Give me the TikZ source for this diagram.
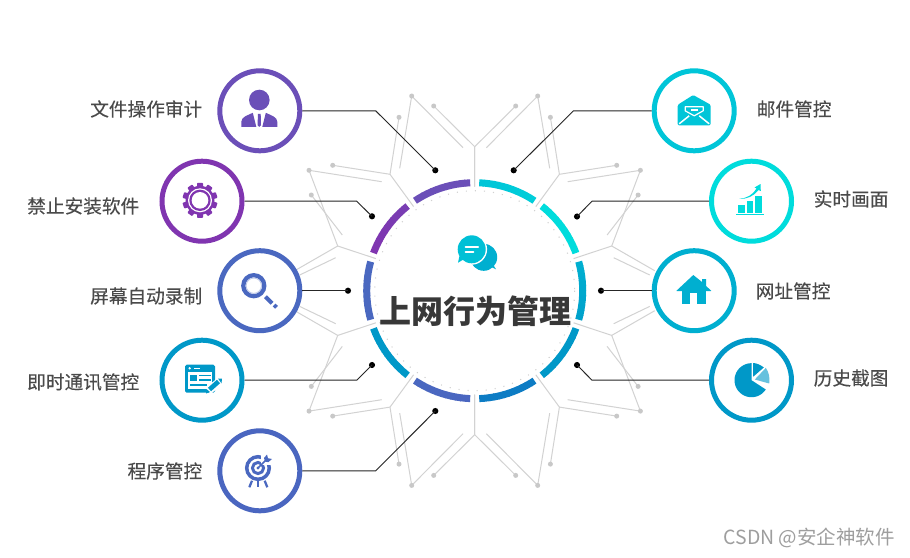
\documentclass[tikz,border=0pt]{standalone}
\usepackage{fontspec}
\setmainfont{Noto Sans CJK SC}
\newfontfamily\labfont[FakeBold=0.2]{Noto Sans CJK SC}
\usetikzlibrary{calc}
\definecolor{cA}{HTML}{6B4FB8}
\definecolor{cB}{HTML}{8035B0}
\definecolor{cC}{HTML}{4A68C0}
\definecolor{cD}{HTML}{0098C8}
\definecolor{cE}{HTML}{4A66C0}
\definecolor{cF}{HTML}{00C5D8}
\definecolor{cG}{HTML}{00DCDC}
\definecolor{cH}{HTML}{00AFD0}
\definecolor{cI}{HTML}{0D7CC4}
\definecolor{wire}{HTML}{D2D2D2}
\definecolor{wdot}{HTML}{C8C8C8}
\definecolor{lab}{HTML}{4A4A4A}
\tikzset{
  x=0.75pt,y=-0.75pt,
  ringnode/.style={circle,draw,line width=3.75pt,fill=white,minimum size=60pt,inner sep=0pt},
  labeltext/.style={font=\labfont\fontsize{14pt}{16pt}\selectfont,text=lab,inner sep=0pt},
  wireline/.style={draw=wire,line width=0.75pt,line join=round},
  wiredot/.style={fill=wdot},
  leader/.style={draw=black!85,line width=0.7pt},
  enddot/.style={circle,fill=black,minimum size=4.6pt,inner sep=0pt},
}
% ring band piece: from angle, to angle, start colour, end colour
\newcommand{\ringarc}[4]{%
  \foreach \i in {0,...,11}{%
    \pgfmathsetmacro{\aa}{#1+(#2-#1)*\i/12}%
    \pgfmathsetmacro{\ab}{#1+(#2-#1)*(\i+1)/12+(\i<11?0.3:0)}%
    \pgfmathtruncatemacro{\pc}{100-\i*100/11}%
    \fill[color={#3!\pc!#4}]
      ({474.7+104.5*cos(\aa)},{290.7-104.5*sin(\aa)}) --
      ({474.7+111.5*cos(\aa)},{290.7-111.5*sin(\aa)}) --
      ({474.7+111.5*cos(\ab)},{290.7-111.5*sin(\ab)}) --
      ({474.7+104.5*cos(\ab)},{290.7-104.5*sin(\ab)}) -- cycle;%
  }%
}
\begin{document}
\begin{tikzpicture}
\useasboundingbox (0,0) rectangle (910,557);
\fill[white] (0,0) rectangle (910,557);

% circuit traces, one quadrant mirrored four times
\foreach \sx/\sy in {1/1,-1/1,1/-1,-1/-1}{
\begin{scope}[shift={(474.7,290.7)},xscale=\sx,yscale=\sy]
  \draw[wireline] (0,-104)--(0,-144)--(-41,-184.7);
  \draw[wireline] (-11.7,-143)--(-63,-194.7)--(-75,-122.4);
  \draw[wireline] (-61.1,-84.1)--(-84.7,-116.4)--(-75.7,-173.4);
  \draw[wireline] (-84.7,-116.4)--(-142,-125.4);
  \draw[wireline] (-93,-109)--(-165.7,-120.4)--(-137,-44.7)--(-98.9,-32.1);
  \draw[wireline] (-137,-44.7)--(-180,-20);
  \draw[wireline] (-163.4,-95.7)--(-132.4,-55.7);
  \draw[wireline] (-139,-33)--(-175,-15.7);
  \foreach \dx/\dy in {-41/-184.7,-63/-194.7,-75.7/-173.4,-142/-125.4,-165.7/-120.4,-163.4/-95.7}
    \fill[wiredot] (\dx,\dy) circle[radius=2.5];
\end{scope}}

% central ring
\draw[draw=black!18,line width=0.8pt,dash pattern=on 0.8pt off 6pt] (474.7,290.7) circle[radius=100];
\ringarc{92.4}{123.6}{cA}{cA}
\ringarc{128.4}{159.6}{cA!35!cB}{cB}
\ringarc{164.4}{195.6}{cC}{cC}
\ringarc{200.4}{231.6}{cD}{cD}
\ringarc{236.4}{267.6}{cC}{cE}
\ringarc{272.4}{303.6}{cI}{cI}
\ringarc{308.4}{339.6}{cD}{cD}
\ringarc{344.4}{375.6}{cD!60!cH}{cH}
\ringarc{20.4}{51.6}{cG}{cG}
\ringarc{56.4}{87.6}{cG!40!cF}{cF}

% outer circles
\node[ringnode,draw=cA] (c1) at (259.8,110.8) {};
\node[ringnode,draw=cB] (c2) at (202,201.2) {};
\node[ringnode,draw=cC] (c3) at (259.8,290.7) {};
\node[ringnode,draw=cD] (c4) at (202,380.2) {};
\node[ringnode,draw=cE] (c5) at (259.8,470.8) {};
\node[ringnode,draw=cF] (c6) at (694.2,110.8) {};
\node[ringnode,draw=cG] (c7) at (751.5,201.2) {};
\node[ringnode,draw=cH] (c8) at (694.2,290.7) {};
\node[ringnode,draw=cD] (c9) at (751.5,380.2) {};

% leader ends
\node[enddot] (d1) at (435.3,170.3) {};
\node[enddot] (d2) at (372,216.3) {};
\node[enddot] (d3) at (348,290.7) {};
\node[enddot] (d4) at (372,365) {};
\node[enddot] (d5) at (435.3,411) {};
\node[enddot] (d6) at (513.7,170.3) {};
\node[enddot] (d7) at (577,216.5) {};
\node[enddot] (d8) at (601,290.7) {};
\node[enddot] (d9) at (577,365) {};
\coordinate (e1) at (375.7,110.8);
\coordinate (e2) at (356.7,201.2);
\coordinate (e4) at (356.7,380.2);
\coordinate (e5) at (375.7,470.8);
\coordinate (e6) at (573.5,110.8);
\coordinate (e7) at (592,201.2);
\coordinate (e9) at (592,380.2);
\draw[leader] (c1.east)--(e1)--(d1.center);
\draw[leader] (c2.east)--(e2)--(d2.center);
\draw[leader] (c3.east)--(d3.center);
\draw[leader] (c4.east)--(e4)--(d4.center);
\draw[leader] (c5.east)--(e5)--(d5.center);
\draw[leader] (c6.west)--(e6)--(d6.center);
\draw[leader] (c7.west)--(e7)--(d7.center);
\draw[leader] (c8.west)--(d8.center);
\draw[leader] (c9.west)--(e9)--(d9.center);

% labels
\node[labeltext,anchor=east] (t1) at (202.5,109) {文件操作审计};
\node[labeltext,anchor=east] (t2) at (139.5,206) {禁止安装软件};
\node[labeltext,anchor=east] (t3) at (202.5,296) {屏幕自动录制};
\node[labeltext,anchor=east] (t4) at (139.5,382) {即时通讯管控};
\node[labeltext,anchor=east] (t5) at (202.5,471) {程序管控};
\node[labeltext,anchor=west] (t6) at (756.5,109) {邮件管控};
\node[labeltext,anchor=west] (t7) at (813.5,199) {实时画面};
\node[labeltext,anchor=west] (t8) at (755.5,291) {网址管控};
\node[labeltext,anchor=west] (t9) at (813.5,378) {历史截图};

% title
\node[font=\fontsize{24pt}{28pt}\selectfont\bfseries,text=black!78,inner sep=0pt] (title) at (475.5,311.5) {上网行为管理};

% chat icon
\begin{scope}[shift={(474.7,290.7)}]
  \fill[cH] (9,-33.4) circle[radius=13.5];
  \fill[cH] (12,-26) -- (21.3,-21.4) -- (16,-30) -- cycle;
  \fill[white] (-3,-41.4) circle[radius=15.4];
  \fill[cF!75!cH] (-3,-41.4) circle[radius=14];
  \fill[cF!75!cH] (-10,-32) -- (-16.7,-28) -- (-14.5,-38) -- cycle;
  \draw[white,line width=1.5pt,line cap=round] (-9.2,-43.3)--(3.5,-43.3);
  \draw[white,line width=1.5pt,line cap=round] (-9.2,-38.3)--(-1.3,-38.3);
\end{scope}

% person
\begin{scope}[shift={(c1.center)},cA]
  \fill (-0.5,-10.8) circle[radius=10.3];
  \fill (-18.5,16) -- (-18.5,11) .. controls (-18.5,6) and (-12,4.5) .. (-7,2) -- (-3.5,16) -- cycle;
  \fill (17.5,16) -- (17.5,11) .. controls (17.5,6) and (11,4.5) .. (6,2) -- (2.5,16) -- cycle;
  \fill (-1.9,3) -- (0.9,3) -- (1.2,14.5) -- (-0.5,16) -- (-2.2,14.5) -- cycle;
\end{scope}

% gear
\begin{scope}[shift={(200,200.3)},cB]
  \foreach \t in {0,36,...,324}
    \fill[rotate=\t,rounded corners=0.6pt] (-3,-17.5) rectangle (3,0);
  \fill (0,0) circle[radius=14.5];
  \fill[white] (0,0) circle[radius=12];
  \fill (0,0) circle[radius=10.7];
  \fill[white] (0,0) circle[radius=8.3];
\end{scope}

% magnifier
\begin{scope}[shift={(c3.center)}]
  \draw[cC,line width=3.2pt] (-6,-5) circle[radius=10.5];
  \draw[cC!35!white,line width=0.7pt] (-6,-5) circle[radius=7.7];
  \draw[cC,line width=3pt] (5.7,6)--(12.3,12.6);
  \draw[cC,line width=3pt] (14.3,14.3)--(16.7,16.6);
\end{scope}

% form and pencil
\begin{scope}[shift={(180,360)},cD]
  \fill[rounded corners=1.2pt] (5,4.7) rectangle (35,32.7);
  \fill[white] (7.7,12) rectangle (32.3,29.3);
  \fill[white] (9.7,8.3) circle[radius=1.3];
  \draw[white,line width=1pt] (14,8.3)--(20,8.3);
  \fill (10,15) rectangle (17.3,20.7);
  \draw[line width=1pt] (19.3,15.7)--(30.7,15.7);
  \draw[line width=1pt] (19.3,20)--(30.7,20);
  \draw[line width=1pt] (10,25)--(26.7,25);
  \draw[white,line width=6pt] (28,31)--(40.7,20.7);
  \draw[line width=3.5pt] (29.5,29.5)--(38.5,21.5);
  \fill (38,18.5) -- (42,18.7) -- (41.5,23.3) -- cycle;
  \fill (26,33.5) -- (26.5,29) -- (30,32) -- cycle;
\end{scope}

% target
\begin{scope}[shift={(258,468)},cC]
  \draw[line width=2.6pt] (0,0) circle[radius=11.3];
  \draw[line width=2.2pt] (0,0) circle[radius=5.6];
  \fill (0,0) circle[radius=1.6];
  \fill[white] (2.5,-15) rectangle (16,-3);
  \draw[line width=1.3pt] (0,0)--(8.5,-8.5);
  \fill (6,-10) -- (9,-13.5) -- (10,-9.8) -- (14,-9) -- (10.3,-5.8) -- (7,-6.5) -- cycle;
  \draw[line width=1.7pt] (-6,12.7)--(-8.7,19.3);
  \draw[line width=1.7pt] (0,13.3)--(0,19.3);
  \draw[line width=1.7pt] (6.7,12.7)--(9.3,19.3);
\end{scope}

% envelope
\begin{scope}[shift={(c6.center)}]
  \fill[cF,rounded corners=1pt] (-16.5,-6) -- (-1,-15.8) -- (16.5,-6) -- (16.5,14.5) -- (-16.5,14.5) -- cycle;
  \draw[white,line width=0.9pt,line join=round] (-9,-4) -- (9,-4) -- (9,0) -- (0,5) -- (-9,0) -- cycle;
  \draw[white,line width=1.2pt] (-3.5,-0.8)--(4,-0.8);
  \draw[white,line width=1.1pt] (-15,13)--(-5,5);
  \draw[white,line width=1.1pt] (15,13)--(5,5);
\end{scope}

% chart
\begin{scope}[shift={(640,60)},cG]
  \fill (97.7,145) rectangle (105.3,152.7);
  \fill (106.7,140.7) rectangle (113.3,152.7);
  \fill (115.3,136) rectangle (122.3,152.7);
  \draw[line width=0.8pt] (96,154.3)--(124,154.3);
  \fill (99,138.7) .. controls (107,138.5) and (113,134.5) .. (116.5,128.5) -- (114.5,127.5) -- (120.5,124) -- (120.8,131) -- (118.5,130) .. controls (114,136) and (107,139.5) .. (99,138.7) -- cycle;
\end{scope}

% house
\begin{scope}[shift={(640,240)},cH]
  \fill (36.7,50.5) -- (53.3,35) -- (62,42) -- (62,39) -- (66,39) -- (66,46) -- (71,50.5) -- (71,51) -- (36.7,51) -- cycle;
  \fill (41.7,49) rectangle (66,64.3);
  \fill[white] (50,53.3) rectangle (57.3,64.4);
\end{scope}

% pie
\begin{scope}[shift={(c9.center)},cD]
  \fill (0,0) -- plot[domain=90:327,samples=50] ({17*cos(\x)},{-17*sin(\x)}) -- cycle;
  \fill (1.7,-17.2) .. controls (5,-17) and (9,-15.5) .. (12.3,-12.7) -- (1.7,-3.5) -- cycle;
  \fill[cD!60!white] (3.3,-0.7) -- (14.3,-12.3) .. controls (17.5,-8) and (18.5,-2) .. (17.7,3.3) -- cycle;
\end{scope}

% watermark
\node[font=\fontsize{14.6pt}{17pt}\selectfont,text=black!38,anchor=east,inner sep=0pt] (wm) at (895,538) {CSDN @安企神软件};
\end{tikzpicture}
\end{document}
